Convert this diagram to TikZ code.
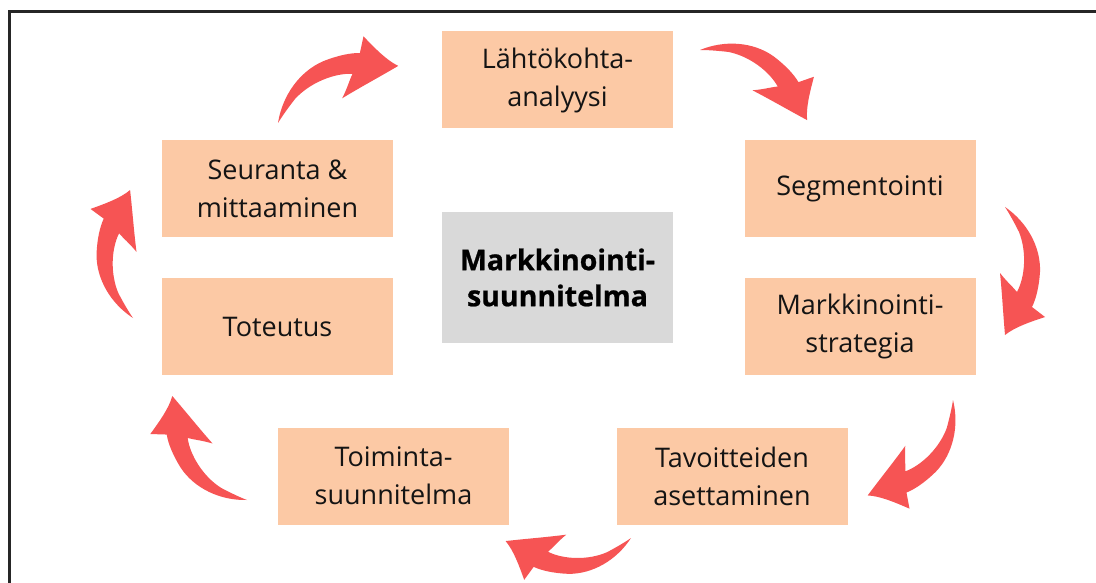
\documentclass[tikz,border=0pt]{standalone}
\usepackage{fontspec}
\setmainfont{Open Sans}
\newfontfamily\heavyfont{Open Sans}[BoldFeatures={FakeBold=0.8}]
\definecolor{peach}{RGB}{252,201,165}
\definecolor{centergray}{RGB}{217,217,217}
\definecolor{arrowred}{RGB}{246,84,84}
\definecolor{txt}{RGB}{20,20,20}
\tikzset{
  stagebox/.style={fill=peach, minimum width=231pt, minimum height=97pt, inner sep=0pt,
    align=center, text=txt, font=\fontsize{27}{38}\selectfont},
  centerbox/.style={fill=centergray, minimum width=231pt, minimum height=131pt, inner sep=0pt,
    align=center, text=black, font=\heavyfont\bfseries\fontsize{28.5}{36}\selectfont},
  swoosh/.pic={
    \fill[arrowred] (0,0) .. controls (15,-22) and (40,-36) .. (65,-35)
      .. controls (80,-34) and (92,-31) .. (100,-27) -- (110,-40)
      .. controls (115,-25) and (120,-10) .. (128,0)
      .. controls (105,2) and (85,3) .. (66,5)
      .. controls (75,-2) and (80,-8) .. (85,-12)
      .. controls (70,-20) and (45,-22) .. (25,-14)
      .. controls (15,-9) and (6,-4) .. (0,0) -- cycle;
  }
}
\begin{document}
\begin{tikzpicture}[x=1pt, y=-1pt]
\useasboundingbox (0,0) rectangle (1096,583);
\fill[white] (0,0) rectangle (1096,583);
\draw[line width=2.5pt, black!85] (1096,11.5) -- (9.5,11.5) -- (9.5,583);

\node[stagebox] (lahto) at (557.5,80) {Lähtökohta-\\analyysi};
\node[stagebox] (seuranta) at (277.5,188.5) {Seuranta \&\\mittaaminen};
\node[stagebox] (segment) at (860,188.5) {Segmentointi};
\node[stagebox] (toteutus) at (277.5,326.5) {Toteutus};
\node[stagebox] (strategia) at (860,326.5) {Markkinointi-\\strategia};
\node[stagebox] (toiminta) at (393.5,476) {Toiminta-\\suunnitelma};
\node[stagebox] (tavoite) at (732,476) {Tavoitteiden\\asettaminen};
\node[centerbox] (center) at (557.5,277.5) {Markkinointi-\\suunnitelma};

\coordinate (t1) at (278,123);
\coordinate (t2) at (700,50);
\coordinate (t3) at (1005,207);
\coordinate (t4) at (953,400);
\coordinate (t5) at (631,538);
\coordinate (t6) at (247,500);
\coordinate (t7) at (133,318);

\pic[rotate=25.4, scale=1.04] at (t1) {swoosh};
\pic[rotate=-33.2] at (t2) {swoosh};
\pic[rotate=-90] at (t3) {swoosh};
\pic[rotate=-131.8] at (t4) {swoosh};
\pic[rotate=-178.6, scale=0.98] at (t5) {swoosh};
\pic[rotate=125.7] at (t6) {swoosh};
\pic[rotate=91.3] at (t7) {swoosh};
\end{tikzpicture}
\end{document}
